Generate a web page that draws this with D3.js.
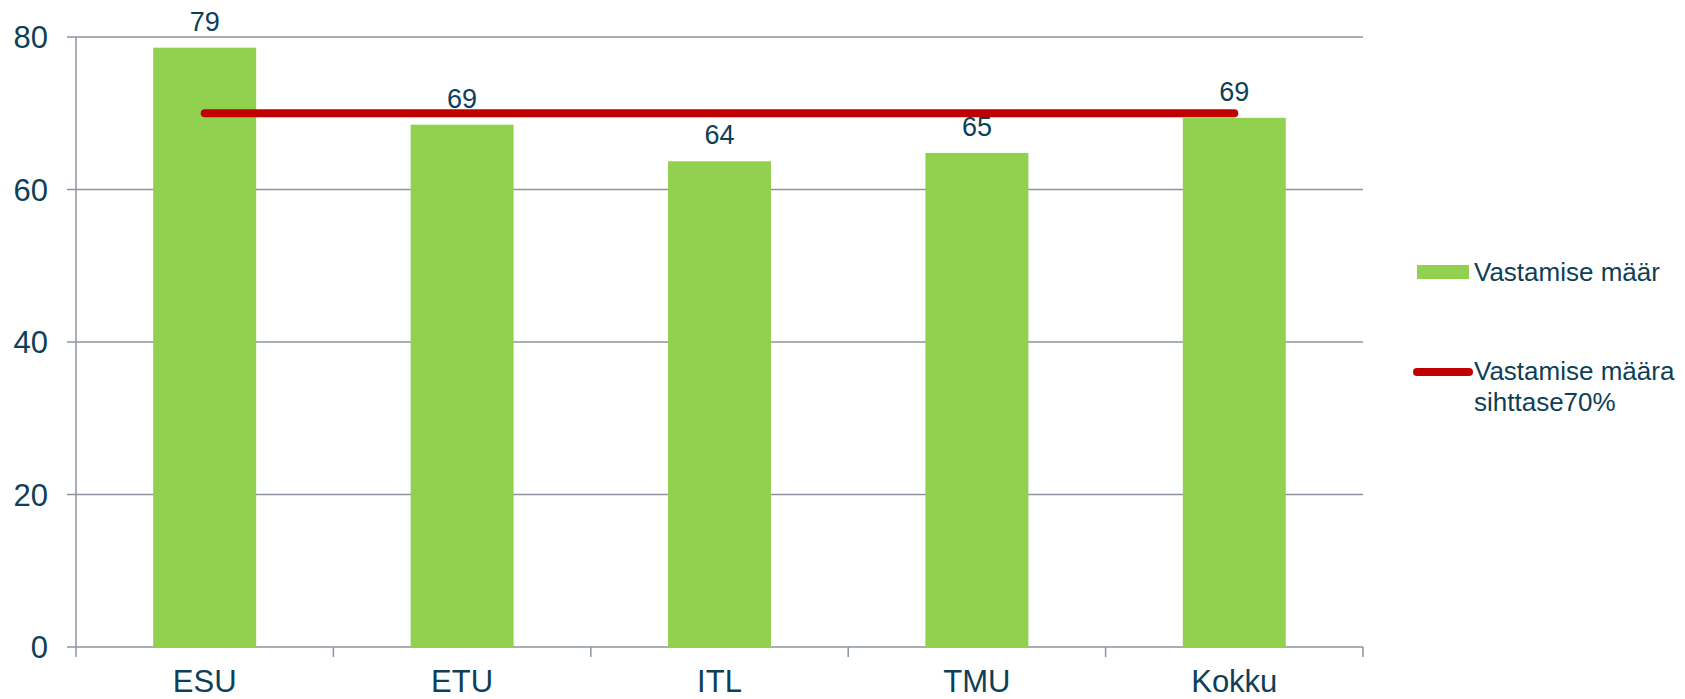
<!DOCTYPE html>
<html><head><meta charset="utf-8">
<script src="https://cdn.jsdelivr.net/npm/d3@7"></script>
<style>body{margin:0;background:#fff;}svg{display:block;font-family:Arial,"Liberation Sans",sans-serif;}</style>
</head><body>
<svg id="c" width="1685" height="699"></svg>
<script>
const categories = ["ESU","ETU","ITL","TMU","Kokku"];
const values = [78.6, 68.5, 63.7, 64.8, 69.4];
const labels = ["79","69","64","65","69"];
const target = [70,70,70,70,70];
const yTicks = [0,20,40,60,80];
const legendNames = ["Vastamise määr", ["Vastamise määra","sihttase70%"]];

const textColor = "#0E3F58", grid = "#8C959F", green = "#92D050", red = "#C00000";
const svg = d3.select("#c");
const L = 76, R = 1363, T = 37, B = 647;
const x = d3.scaleBand().domain(categories).range([L, R]).padding(0);
const y = d3.scaleLinear().domain([0, 80]).range([B, T]);
const bw = x.bandwidth() * 0.4;

// gridlines
svg.append("g").selectAll("line").data(yTicks).join("line")
  .attr("x1", L - 9).attr("x2", R).attr("y1", d => y(d)).attr("y2", d => y(d))
  .attr("stroke", grid).attr("stroke-width", 1.5);
// y axis line
svg.append("line").attr("x1", L).attr("x2", L).attr("y1", T).attr("y2", B + 10)
  .attr("stroke", grid).attr("stroke-width", 1.5);
// category boundary ticks
const bounds = categories.map(c => x(c)).concat([R]);
svg.append("g").selectAll("line").data(bounds.slice(1)).join("line")
  .attr("x1", d => d).attr("x2", d => d).attr("y1", B).attr("y2", B + 10)
  .attr("stroke", grid).attr("stroke-width", 1.5);
// y tick labels
svg.append("g").selectAll("text").data(yTicks).join("text")
  .attr("x", 48).attr("y", d => y(d) + 11).attr("text-anchor", "end")
  .attr("font-size", 31).attr("fill", textColor).text(d => d);
// bars
svg.append("g").selectAll("rect").data(values).join("rect")
  .attr("x", (d, i) => x(categories[i]) + (x.bandwidth() - bw) / 2)
  .attr("width", bw).attr("y", d => y(d)).attr("height", d => B - y(d))
  .attr("fill", green);
// target line
const line = d3.line().x((d, i) => x(categories[i]) + x.bandwidth() / 2).y(d => y(d));
svg.append("path").datum(target).attr("d", line).attr("fill", "none")
  .attr("stroke", red).attr("stroke-width", 8).attr("stroke-linecap", "round");
// data labels
svg.append("g").selectAll("text").data(values).join("text")
  .attr("x", (d, i) => x(categories[i]) + x.bandwidth() / 2)
  .attr("y", d => y(d) - 17).attr("text-anchor", "middle")
  .attr("font-size", 27).attr("fill", textColor).text((d, i) => labels[i]);
// category labels
svg.append("g").selectAll("text").data(categories).join("text")
  .attr("x", d => x(d) + x.bandwidth() / 2).attr("y", 692).attr("text-anchor", "middle")
  .attr("font-size", 31).attr("fill", textColor).text(d => d);
// legend
svg.append("rect").attr("x", 1417).attr("y", 265).attr("width", 52).attr("height", 14).attr("fill", green);
svg.append("text").attr("x", 1474).attr("y", 281).attr("font-size", 26).attr("fill", textColor).text(legendNames[0]);
svg.append("line").attr("x1", 1417).attr("x2", 1469).attr("y1", 372).attr("y2", 372)
  .attr("stroke", red).attr("stroke-width", 8).attr("stroke-linecap", "round");
const t2 = svg.append("text").attr("font-size", 26).attr("fill", textColor);
legendNames[1].forEach((s, i) => t2.append("tspan").attr("x", 1474).attr("y", 380 + i * 31).text(s));
</script>
</body></html>
